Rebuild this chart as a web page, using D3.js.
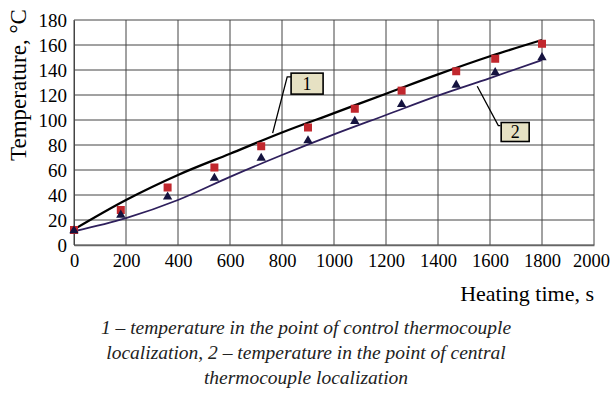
<!DOCTYPE html>
<html>
<head>
<meta charset="utf-8">
<script src="https://cdn.jsdelivr.net/npm/d3@7"></script>
<style>
  html, body { margin: 0; padding: 0; background: #fff; }
  svg { display: block; }
  text { font-family: "Liberation Serif", "DejaVu Serif", serif; }
</style>
</head>
<body>
<div class="chart"></div>
<script>
// curve samples (s, degC)
var curveTimes = [0, 200, 400, 600, 800, 1000, 1200, 1400, 1600, 1800];
var curve1 = [12.5, 36, 56, 73, 90, 105.5, 121, 136.5, 151, 164];
var curve2 = [11, 21.5, 36, 54.5, 72, 88.5, 104, 119.5, 133.5, 148];

// measured points
var pointTimes = [0, 180, 360, 540, 720, 900, 1080, 1260, 1470, 1620, 1800];
var points1 = [12, 28, 46, 62, 79, 94, 109, 123.5, 139, 149, 161];
var points2 = [11.5, 24, 38.5, 53.5, 69.5, 83.5, 99, 112.5, 128, 138, 150];

var xTicks = [0, 200, 400, 600, 800, 1000, 1200, 1400, 1600, 1800, 2000];
var yTicks = [0, 20, 40, 60, 80, 100, 120, 140, 160, 180];

var captionLines = [
  "1 \u2013 temperature in the point of control thermocouple",
  "localization, 2 \u2013 temperature in the point of central",
  "thermocouple localization"
];

var width = 612, height = 393;
var margin = {top: 20, right: 18, bottom: 148, left: 74};

var xScale = d3.scaleLinear()
  .domain([0, 2000])
  .range([margin.left, width - margin.right]);

var yScale = d3.scaleLinear()
  .domain([0, 180])
  .range([height - margin.bottom, margin.top]);

var svg = d3.select('.chart')
  .append('svg')
  .attr('width', width)
  .attr('height', height);

// grid
svg.append('g')
  .selectAll('line')
  .data(yTicks)
  .enter().append('line')
    .attr('x1', xScale(0)).attr('x2', xScale(2000))
    .attr('y1', d => yScale(d)).attr('y2', d => yScale(d))
    .attr('stroke', '#444').attr('stroke-width', 1);

svg.append('g')
  .selectAll('line')
  .data(xTicks)
  .enter().append('line')
    .attr('x1', d => xScale(d)).attr('x2', d => xScale(d))
    .attr('y1', yScale(0)).attr('y2', yScale(180))
    .attr('stroke', '#444').attr('stroke-width', 1);

// axes (labels only, lines are the grid)
var xAxis = d3.axisBottom(xScale).tickValues(xTicks).tickFormat(d3.format('d')).tickSize(0).tickPadding(9);
var yAxis = d3.axisLeft(yScale).tickValues(yTicks).tickFormat(d3.format('d')).tickSize(0).tickPadding(7);

var gx = svg.append('g')
  .attr('transform', 'translate(0,' + yScale(0) + ')')
  .call(xAxis)
  .call(g => g.select('.domain').attr('stroke', '#666').attr('stroke-width', 1.5));

var gy = svg.append('g')
  .attr('transform', 'translate(' + xScale(0) + ',0)')
  .call(yAxis)
  .call(g => g.select('.domain').attr('stroke', '#444').attr('stroke-width', 1));

gx.selectAll('.tick text')
  .attr('font-family', '"Liberation Serif", serif')
  .attr('font-size', 18.5)
  .attr('fill', '#000');
// last label sits against the page edge
gx.selectAll('.tick text').filter(d => d === 2000).attr('dx', -3);

gy.selectAll('.tick text')
  .attr('font-family', '"Liberation Serif", serif')
  .attr('font-size', 19)
  .attr('fill', '#000');

// curves
var line = d3.line()
  .x((d, i) => xScale(curveTimes[i]))
  .y(d => yScale(d))
  .curve(d3.curveMonotoneX);

svg.append('path')
  .datum(curve2)
  .attr('d', line)
  .attr('fill', 'none')
  .attr('stroke', '#2e1f5c')
  .attr('stroke-width', 1.8);

svg.append('path')
  .datum(curve1)
  .attr('d', line)
  .attr('fill', 'none')
  .attr('stroke', '#000')
  .attr('stroke-width', 2.3);

// markers
svg.append('g')
  .selectAll('rect')
  .data(points1)
  .enter().append('rect')
    .attr('x', (d, i) => xScale(pointTimes[i]) - 4)
    .attr('y', d => yScale(d) - 4)
    .attr('width', 8).attr('height', 8)
    .attr('fill', '#c1272d');

var tri = d3.symbol().type(d3.symbolTriangle).size(38);
svg.append('g')
  .selectAll('path')
  .data(points2)
  .enter().append('path')
    .attr('d', tri)
    .attr('transform', (d, i) => 'translate(' + xScale(pointTimes[i]) + ',' + yScale(d) + ')')
    .attr('fill', '#15133f');

// callouts
function callout(label, pts, box) {
  svg.append('polyline')
    .attr('points', pts.map(p => xScale(p[0]) + ',' + yScale(p[1])).join(' '))
    .attr('fill', 'none')
    .attr('stroke', '#000')
    .attr('stroke-width', 1.3);
  svg.append('rect')
    .attr('x', xScale(box[0])).attr('y', yScale(box[1]))
    .attr('width', box[2]).attr('height', box[3])
    .attr('fill', '#e6e1c3')
    .attr('stroke', '#000')
    .attr('stroke-width', 1.6);
  svg.append('text')
    .attr('x', xScale(box[0]) + box[2] / 2)
    .attr('y', yScale(box[1]) + box[3] / 2 + 6)
    .attr('text-anchor', 'middle')
    .attr('font-size', 18)
    .text(label);
}
callout('1', [[764, 89.5], [820, 134.5], [835, 134.5]], [835, 137.5, 32, 21]);
callout('2', [[1551, 127], [1632, 95.5], [1640, 95.5]], [1643, 98, 28, 19]);

// titles
svg.append('text')
  .attr('transform', 'translate(26,' + 85 + ') rotate(-90)')
  .attr('text-anchor', 'middle')
  .attr('font-size', 23)
  .text('Temperature, \u00B0C');

svg.append('text')
  .attr('x', xScale(2000))
  .attr('y', 301)
  .attr('text-anchor', 'end')
  .attr('font-size', 22)
  .text('Heating time, s');

svg.append('g')
  .selectAll('text')
  .data(captionLines)
  .enter().append('text')
    .attr('x', 306)
    .attr('y', (d, i) => 334 + i * 25)
    .attr('text-anchor', 'middle')
    .attr('font-size', 19.5)
    .attr('font-style', 'italic')
    .attr('fill', '#222')
    .text(d => d);
</script>
</body>
</html>
